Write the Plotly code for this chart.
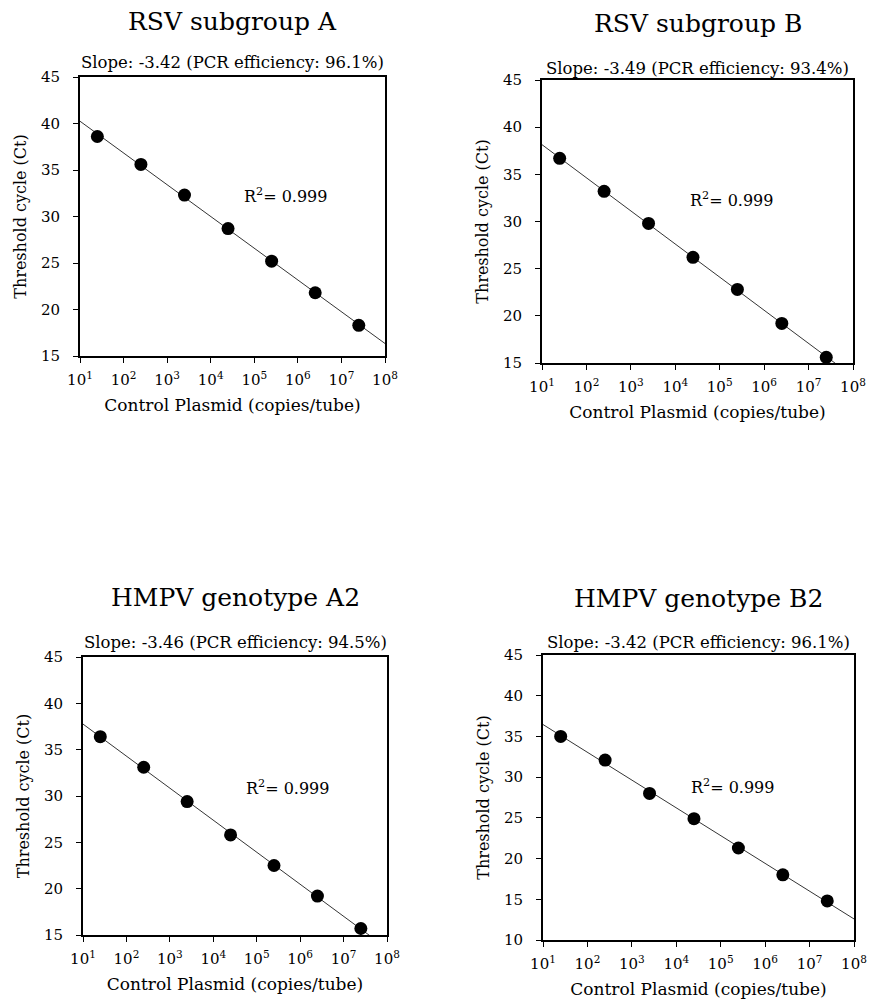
import plotly.graph_objects as go
import numpy as np

# ---- data ----
copies = [2.5e1, 2.5e2, 2.5e3, 2.5e4, 2.5e5, 2.5e6, 2.5e7]
ct_rsv_a = [38.6, 35.6, 32.3, 28.7, 25.2, 21.8, 18.3]
ct_rsv_b = [36.7, 33.2, 29.8, 26.2, 22.8, 19.2, 15.6]
ct_hmpv_a2 = [36.4, 33.1, 29.4, 25.8, 22.5, 19.2, 15.7]
ct_hmpv_b2 = [35.0, 32.1, 28.0, 24.9, 21.3, 18.0, 14.8]

panel_titles = ["RSV subgroup A", "RSV subgroup B", "HMPV genotype A2", "HMPV genotype B2"]
slope_texts = ["Slope: -3.42 (PCR efficiency: 96.1%)",
               "Slope: -3.49 (PCR efficiency: 93.4%)",
               "Slope: -3.46 (PCR efficiency: 94.5%)",
               "Slope: -3.42 (PCR efficiency: 96.1%)"]
r2_text = "R<sup>2</sup>= 0.999"
y_ranges = [[15, 45], [15, 45], [15, 45], [10, 45]]
y_ticks = [[15, 20, 25, 30, 35, 40, 45], [15, 20, 25, 30, 35, 40, 45],
           [15, 20, 25, 30, 35, 40, 45], [10, 15, 20, 25, 30, 35, 40, 45]]
x_tick_exps = [1, 2, 3, 4, 5, 6, 7, 8]
x_axis_title = "Control Plasmid (copies/tube)"
y_axis_title = "Threshold cycle (Ct)"

series = [ct_rsv_a, ct_rsv_b, ct_hmpv_a2, ct_hmpv_b2]

# ---- layout geometry (page pixels) ----
W, H = 873, 1000
boxes = [(80, 385, 77, 356), (542, 853, 80, 363), (83, 387, 657, 935), (543, 854, 655, 940)]
title_y = [21, 23, 597, 598]
slope_y = [63, 69, 642, 642]
r2_pos = [(0.53, 0.577), (0.47, 0.576), (0.53, 0.53), (0.47, 0.537)]

FONT = "DejaVu Serif"

fig = go.Figure()
for i, ys in enumerate(series):
    xa = "x" if i == 0 else f"x{i+1}"
    ya = "y" if i == 0 else f"y{i+1}"
    lx = np.log10(copies)
    slope, icpt = np.polyfit(lx, ys, 1)
    fx = np.array([1.0, 8.0])
    fig.add_trace(go.Scatter(x=10 ** fx, y=slope * fx + icpt, mode="lines",
                             line=dict(color="black", width=0.8),
                             xaxis=xa, yaxis=ya, showlegend=False, hoverinfo="skip"))
    fig.add_trace(go.Scatter(x=copies, y=ys, mode="markers",
                             marker=dict(color="black", size=13),
                             xaxis=xa, yaxis=ya, showlegend=False))

layout = dict(width=W, height=H, margin=dict(l=0, r=0, t=0, b=0),
              paper_bgcolor="white", plot_bgcolor="white",
              font=dict(family=FONT, color="black", size=15))
annotations = []
for i, (x0, x1, y0, y1) in enumerate(boxes):
    sfx = "" if i == 0 else str(i + 1)
    xdom = [x0 / W, x1 / W]
    ydom = [1 - y1 / H, 1 - y0 / H]
    layout["xaxis" + sfx] = dict(
        type="log", range=[1, 8], domain=xdom, anchor="y" + sfx, automargin=False,
        tickvals=[10 ** e for e in x_tick_exps],
        ticktext=[f"10<sup>{e}</sup>" for e in x_tick_exps],
        ticks="outside", ticklen=5, tickcolor="black", ticklabelstandoff=4,
        showline=True, mirror=True, linecolor="black", linewidth=1.8,
        showgrid=False, zeroline=False, tickfont=dict(size=15),
        title=dict(text=x_axis_title, font=dict(size=17), standoff=11))
    layout["yaxis" + sfx] = dict(
        range=y_ranges[i], domain=ydom, anchor="x" + sfx, automargin=False,
        tickvals=y_ticks[i], ticks="outside", ticklen=5, tickcolor="black", ticklabelstandoff=10,
        showline=True, mirror=True, linecolor="black", linewidth=1.8,
        showgrid=False, zeroline=False, tickfont=dict(size=15),
        title=dict(text=y_axis_title, font=dict(size=16), standoff=10))
    cx = (x0 + x1) / 2 / W
    annotations.append(dict(text=panel_titles[i], x=cx, y=1 - title_y[i] / H,
                            xref="paper", yref="paper", showarrow=False,
                            xanchor="center", yanchor="middle", font=dict(size=25)))
    annotations.append(dict(text=slope_texts[i], x=cx, y=1 - slope_y[i] / H,
                            xref="paper", yref="paper", showarrow=False,
                            xanchor="center", yanchor="middle", font=dict(size=16.5)))
    annotations.append(dict(text=r2_text, x=r2_pos[i][0], y=r2_pos[i][1],
                            xref=f"x{sfx} domain", yref=f"y{sfx} domain", showarrow=False,
                            xanchor="left", yanchor="middle", font=dict(size=16)))
layout["annotations"] = annotations
fig.update_layout(**layout)
fig.write_html("out.html", config={"displayModeBar": False},
               post_script="document.body.style.margin='0';")
